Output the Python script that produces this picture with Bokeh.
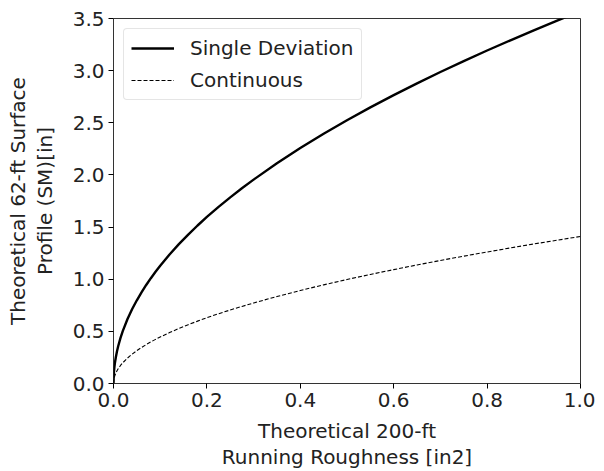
from bokeh.plotting import figure
from bokeh.models import FixedTicker, NumeralTickFormatter, Range1d, Legend, LegendItem
from bokeh.embed import file_html
from bokeh.resources import INLINE

# data
x_vals = [0.0, 0.0005, 0.001, 0.002, 0.003, 0.005, 0.0075, 0.01, 0.015, 0.02, 0.03, 0.04, 0.05,
          0.06, 0.07, 0.08, 0.09, 0.1, 0.12, 0.14, 0.16, 0.18, 0.2, 0.225, 0.25, 0.275, 0.3,
          0.35, 0.4, 0.45, 0.5, 0.55, 0.6, 0.65, 0.7, 0.75, 0.8, 0.85, 0.9, 0.95, 1.0]
single_dev = [0.0, 0.080, 0.113, 0.160, 0.196, 0.252, 0.309, 0.357, 0.437, 0.505, 0.618, 0.714,
              0.798, 0.874, 0.945, 1.010, 1.071, 1.129, 1.237, 1.336, 1.428, 1.515, 1.597,
              1.693, 1.785, 1.872, 1.955, 2.112, 2.258, 2.395, 2.524, 2.648, 2.765, 2.878,
              2.987, 3.092, 3.193, 3.291, 3.387, 3.480, 3.570]
continuous = [0.0, 0.032, 0.045, 0.063, 0.077, 0.100, 0.122, 0.141, 0.173, 0.199, 0.244, 0.282,
              0.315, 0.345, 0.373, 0.399, 0.423, 0.446, 0.488, 0.528, 0.564, 0.598, 0.631,
              0.669, 0.705, 0.739, 0.772, 0.834, 0.892, 0.946, 0.997, 1.046, 1.092, 1.137,
              1.180, 1.221, 1.261, 1.300, 1.338, 1.374, 1.410]
x_ticks = [0.0, 0.2, 0.4, 0.6, 0.8, 1.0]
y_ticks = [0.0, 0.5, 1.0, 1.5, 2.0, 2.5, 3.0, 3.5]

FONT = "DejaVu Sans"
TXT = "#222222"
FS = "20px"

p = figure(frame_width=467, frame_height=365, output_backend="svg", toolbar_location=None,
           x_range=Range1d(0, 1), y_range=Range1d(0, 3.5),
           min_border_left=113, min_border_top=18, min_border_right=15, min_border_bottom=0)

r1 = p.line(x_vals, single_dev, line_color="black", line_width=2.4)
r2 = p.line(x_vals, continuous, line_color="black", line_width=1.1, line_dash="4 2")

p.xgrid.visible = False
p.ygrid.visible = False
p.outline_line_color = "black"
p.outline_line_width = 1
p.outline_line_alpha = 0.8

p.xaxis.ticker = FixedTicker(ticks=x_ticks)
p.yaxis.ticker = FixedTicker(ticks=y_ticks)
p.xaxis.formatter = NumeralTickFormatter(format="0.0")
p.yaxis.formatter = NumeralTickFormatter(format="0.0")
p.xaxis.axis_label = "Theoretical 200-ft\nRunning Roughness [in2]"
p.yaxis.axis_label = "Theoretical 62-ft Surface\nProfile (SM)[in]"

for ax in (p.xaxis[0], p.yaxis[0]):
    ax.axis_line_color = None
    ax.major_tick_out = 5
    ax.major_tick_in = 0
    ax.minor_tick_out = 0
    ax.minor_tick_in = 0
    ax.major_tick_line_color = "black"
    ax.major_label_text_font = FONT
    ax.major_label_text_font_size = FS
    ax.major_label_text_color = TXT
    ax.axis_label_text_font = FONT
    ax.axis_label_text_font_size = FS
    ax.axis_label_text_font_style = "normal"
    ax.axis_label_text_color = TXT
    ax.axis_label_text_line_height = 1.1
    ax.major_label_standoff = 4
p.yaxis[0].axis_label_standoff = 13
p.xaxis[0].axis_label_standoff = 9

legend = Legend(items=[LegendItem(label="Single Deviation", renderers=[r1]),
                       LegendItem(label="Continuous", renderers=[r2])],
                location="top_left")
legend.label_text_font = FONT
legend.label_text_font_size = FS
legend.label_text_color = TXT
legend.border_line_color = "#cccccc"
legend.border_radius = 4
legend.margin = 10
legend.padding = 7
legend.spacing = 8
legend.glyph_width = 43
legend.glyph_height = 24
legend.label_height = 24
legend.label_standoff = 16
p.add_layout(legend)

open("out.html", "w").write(file_html(p, INLINE))
